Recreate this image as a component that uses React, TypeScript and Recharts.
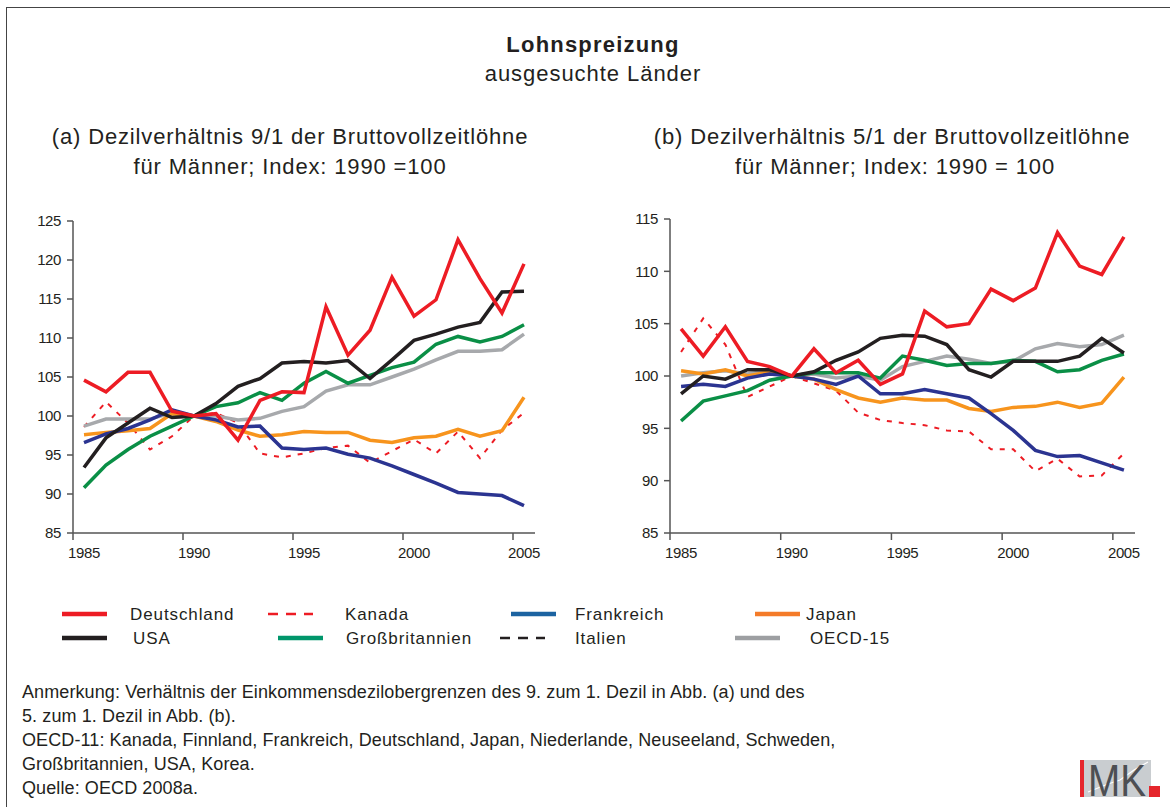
import React from 'react';
import { LineChart, Line, XAxis, YAxis } from 'recharts';

// Jahre (Jahresmittel, gezeichnet in der Jahresmitte)
const years = [
  1985, 1986, 1987, 1988, 1989, 1990, 1991, 1992, 1993, 1994, 1995,
  1996, 1997, 1998, 1999, 2000, 2001, 2002, 2003, 2004, 2005,
];
const yearTicks = [1985, 1990, 1995, 2000, 2005];
const ticksA = [85, 90, 95, 100, 105, 110, 115, 120, 125];
const ticksB = [85, 90, 95, 100, 105, 110, 115];

// (a) Dezilverhältnis 9/1
const deA = [104.6, 103.1, 105.6, 105.6, 100.6, 100, 100.3, 96.9, 102.0, 103.1, 103.0, 114.0, 107.8, 111.0, 117.8, 112.8, 114.9, 122.6, 117.6, 113.2, 119.5];
const caA = [98.6, 101.8, 99.1, 95.7, 97.4, 100, 100.4, 99.1, 95.2, 94.7, 95.2, 95.9, 96.2, 94.0, 95.5, 97.0, 95.2, 98.0, 94.6, 98.2, 100.4];
const frA = [96.6, 97.7, 98.4, 99.5, 100.8, 100, 99.5, 98.6, 98.7, 95.9, 95.7, 95.9, 95.1, 94.6, 93.6, 92.5, 91.4, 90.2, 90.0, 89.8, 88.5];
const jpA = [97.6, 97.9, 98.1, 98.4, 100.3, 100, 99.3, 98.2, 97.4, 97.6, 98.0, 97.9, 97.9, 96.9, 96.6, 97.2, 97.4, 98.3, 97.4, 98.1, 102.4];
const usA = [93.4, 97.2, 99.1, 101.0, 99.8, 100, 101.6, 103.8, 104.8, 106.8, 107.0, 106.8, 107.1, 104.8, 107.2, 109.7, 110.5, 111.4, 112.0, 115.9, 116.0];
const gbA = [90.8, 93.7, 95.7, 97.4, 98.7, 100, 101.2, 101.7, 103.0, 102.0, 104.2, 105.7, 104.2, 105.2, 106.2, 106.9, 109.2, 110.2, 109.5, 110.2, 111.7];
const oeA = [98.7, 99.6, 99.6, 99.6, 100.4, 100, 100, 99.5, 99.7, 100.6, 101.2, 103.2, 104.0, 104.0, 105.0, 106.0, 107.2, 108.3, 108.3, 108.5, 110.5];

// (b) Dezilverhältnis 5/1
const deB = [104.5, 101.9, 104.7, 101.4, 100.9, 100, 102.6, 100.3, 101.5, 99.2, 100.2, 106.2, 104.7, 105.0, 108.3, 107.2, 108.4, 113.7, 110.5, 109.7, 113.3];
const caB = [102.3, 105.5, 103.0, 98.0, 99.0, 100, 99.3, 98.6, 96.5, 95.8, 95.5, 95.3, 94.8, 94.7, 93.0, 93.0, 90.9, 92.1, 90.4, 90.5, 92.6];
const frB = [99.0, 99.2, 99.0, 99.8, 100.2, 100, 99.7, 99.2, 100.0, 98.3, 98.3, 98.7, 98.3, 97.9, 96.4, 94.8, 92.9, 92.3, 92.4, 91.7, 91.0];
const jpB = [100.5, 100.2, 100.6, 100.0, 100.4, 100, 99.7, 98.7, 97.9, 97.5, 97.9, 97.7, 97.7, 96.9, 96.6, 97.0, 97.1, 97.5, 97.0, 97.4, 99.9];
const usB = [98.3, 100.0, 99.7, 100.6, 100.6, 100, 100.4, 101.5, 102.3, 103.6, 103.9, 103.8, 103.0, 100.6, 99.9, 101.4, 101.4, 101.4, 101.9, 103.6, 102.2];
const gbB = [95.7, 97.6, 98.1, 98.6, 99.6, 100, 100.3, 100.3, 100.3, 99.8, 101.9, 101.5, 101.0, 101.2, 101.2, 101.5, 101.4, 100.4, 100.6, 101.5, 102.1];
const oeB = [100.0, 100.3, 100.5, 100.2, 100.5, 100, 100.2, 99.8, 100.0, 99.6, 100.9, 101.4, 101.9, 101.6, 101.2, 101.4, 102.6, 103.1, 102.8, 103.0, 103.9];

const FONT = '"Liberation Sans", Arial, sans-serif';
const TEXT = '#231f20';
const AXIS = '#555555';

const C = {
  de: '#ed1c24',
  ca: '#ed1c24',
  fr: '#2b3491',
  jp: '#f7941d',
  us: '#231f20',
  gb: '#0a8f46',
  oe: '#a7a9ac',
};

function buildRows(de: number[], ca: number[], fr: number[], jp: number[], us: number[], gb: number[], oe: number[]) {
  return years.map((y, i) => ({
    x: y + 0.5,
    de: de[i],
    ca: ca[i],
    fr: fr[i],
    jp: jp[i],
    us: us[i],
    gb: gb[i],
    oe: oe[i],
  }));
}

const rowsA = buildRows(deA, caA, frA, jpA, usA, gbA, oeA);
const rowsB = buildRows(deB, caB, frB, jpB, usB, gbB, oeB);

const YearTick = (props: any) => {
  const { x, y, payload } = props;
  return (
    <text x={x + 11} y={y} dy={14} textAnchor="middle" fontSize={15} fill={TEXT} fontFamily={FONT} letterSpacing={-0.4}>
      {payload.value}
    </text>
  );
};

const legendItems = [
  { label: 'Deutschland', color: '#ed1c24', dash: false, lx: 62, tx: 130, y: 614 },
  { label: 'Kanada', color: '#ed1c24', dash: true, lx: 268, tx: 345, y: 614 },
  { label: 'Frankreich', color: '#1c63a1', dash: false, lx: 511, tx: 575, y: 614 },
  { label: 'Japan', color: '#f47b29', dash: false, lx: 755, tx: 806, y: 614 },
  { label: 'USA', color: '#231f20', dash: false, lx: 62, tx: 133, y: 638 },
  { label: 'Großbritannien', color: '#00966b', dash: false, lx: 278, tx: 346, y: 638 },
  { label: 'Italien', color: '#231f20', dash: true, lx: 500, tx: 575, y: 638 },
  { label: 'OECD-15', color: '#9d9fa2', dash: false, lx: 735, tx: 810, y: 638 },
];

const notes = [
  'Anmerkung: Verhältnis der Einkommensdezilobergrenzen des 9. zum 1. Dezil in Abb. (a) und des',
  '5. zum 1. Dezil in Abb. (b).',
  'OECD-11: Kanada, Finnland, Frankreich, Deutschland, Japan, Niederlande, Neuseeland, Schweden,',
  'Großbritannien, USA, Korea.',
  'Quelle: OECD 2008a.',
];

function Panel({ rows, ticks, domain, top, left, marginTop, marginLeft }: any) {
  return (
    <div style={{ position: 'absolute', left, top }}>
      <LineChart
        width={560}
        height={380}
        data={rows}
        margin={{ top: marginTop, right: 25, bottom: 17, left: marginLeft }}
      >
        <XAxis
          dataKey="x"
          type="number"
          domain={[1985, 2006]}
          ticks={yearTicks}
          allowDataOverflow
          tick={<YearTick />}
          tickSize={7}
          tickMargin={4}
          height={30}
          axisLine={{ stroke: AXIS, strokeWidth: 1.5 }}
          tickLine={{ stroke: AXIS, strokeWidth: 1.5 }}
        />
        <YAxis
          type="number"
          domain={domain}
          ticks={ticks}
          allowDataOverflow
          width={60}
          tickSize={6}
          tickMargin={6}
          tick={{ fontSize: 15, fill: TEXT, fontFamily: FONT, letterSpacing: -0.4 }}
          axisLine={{ stroke: AXIS, strokeWidth: 1.5 }}
          tickLine={{ stroke: AXIS, strokeWidth: 1.5 }}
        />
        <Line dataKey="ca" stroke={C.ca} strokeWidth={2} strokeDasharray="5 7" dot={false} isAnimationActive={false} />
        <Line dataKey="oe" stroke={C.oe} strokeWidth={3.5} dot={false} isAnimationActive={false} />
        <Line dataKey="jp" stroke={C.jp} strokeWidth={3.5} dot={false} isAnimationActive={false} />
        <Line dataKey="fr" stroke={C.fr} strokeWidth={3.5} dot={false} isAnimationActive={false} />
        <Line dataKey="gb" stroke={C.gb} strokeWidth={3.5} dot={false} isAnimationActive={false} />
        <Line dataKey="us" stroke={C.us} strokeWidth={3.5} dot={false} isAnimationActive={false} />
        <Line dataKey="de" stroke={C.de} strokeWidth={3.5} dot={false} isAnimationActive={false} />
      </LineChart>
    </div>
  );
}

const centered = (x: number, y: number, text: string, extra: React.CSSProperties = {}) => (
  <div
    style={{
      position: 'absolute',
      left: x - 400,
      top: y,
      width: 800,
      textAlign: 'center',
      fontFamily: FONT,
      color: TEXT,
      whiteSpace: 'nowrap',
      ...extra,
    }}
  >
    {text}
  </div>
);

export default function App() {
  return (
    <div style={{ position: 'absolute', left: 0, top: 0, width: 1170, height: 807, overflow: 'hidden', background: '#fff' }}>
      <div
        style={{
          position: 'absolute',
          left: 6,
          top: 7,
          width: 1200,
          height: 900,
          borderLeft: '1.5px solid #444',
          borderTop: '1.5px solid #444',
        }}
      />
      {centered(593, 32, 'Lohnspreizung', { fontSize: 22, fontWeight: 'bold', lineHeight: '26px', letterSpacing: 1.2 })}
      {centered(593, 61, 'ausgesuchte Länder', { fontSize: 22, lineHeight: '26px', letterSpacing: 0.95 })}
      {centered(290, 123, '(a) Dezilverhältnis 9/1 der Bruttovollzeitlöhne', { fontSize: 22, lineHeight: '28px', letterSpacing: 0.85 })}
      {centered(290, 153, 'für Männer; Index: 1990 =100', { fontSize: 22, lineHeight: '28px', letterSpacing: 0.85 })}
      {centered(892, 123, '(b) Dezilverhältnis 5/1 der Bruttovollzeitlöhne', { fontSize: 22, lineHeight: '28px', letterSpacing: 0.85 })}
      {centered(895, 153, 'für Männer; Index: 1990 = 100', { fontSize: 22, lineHeight: '28px', letterSpacing: 0.85 })}

      <Panel rows={rowsA} ticks={ticksA} domain={[85, 125]} top={200} left={0} marginTop={21} marginLeft={13} />
      <Panel rows={rowsB} ticks={ticksB} domain={[85, 115]} top={200} left={600} marginTop={19} marginLeft={10} />

      <svg style={{ position: 'absolute', left: 0, top: 595 }} width={1170} height={60}>
        {legendItems.map((it) => (
          <g key={it.label}>
            <line
              x1={it.lx}
              x2={it.lx + 45}
              y1={it.y - 595}
              y2={it.y - 595}
              stroke={it.color}
              strokeWidth={it.dash ? 2.5 : 4.5}
              strokeDasharray={it.dash ? '10 8' : undefined}
            />
            <text x={it.tx} y={it.y - 595 + 6} fontSize={17} fill={TEXT} fontFamily={FONT} letterSpacing={0.9}>
              {it.label}
            </text>
          </g>
        ))}
      </svg>

      {notes.map((n, i) => (
        <div
          key={i}
          style={{
            position: 'absolute',
            left: 22,
            top: 681 + i * 24,
            fontFamily: FONT,
            fontSize: 18,
            letterSpacing: 0.1,
            color: TEXT,
            whiteSpace: 'nowrap',
            lineHeight: '22px',
          }}
        >
          {n}
        </div>
      ))}

      <svg style={{ position: 'absolute', left: 1078, top: 756 }} width={86} height={50}>
        <rect x={2} y={4} width={71} height={37} fill="#c9cdd0" />
        <polyline points="10,36 30,28 42,24 56,14 70,6" fill="none" stroke="#fff" strokeWidth={1.2} />
        <rect x={2} y={4} width={4} height={37} fill="#e5262c" />
        <text x={10} y={40} fontSize={44} fontFamily={FONT} fill="#4d4f53" textLength={58} lengthAdjust="spacingAndGlyphs">
          MK
        </text>
        <rect x={71} y={30} width={11} height={11} fill="#e5262c" />
      </svg>
    </div>
  );
}
